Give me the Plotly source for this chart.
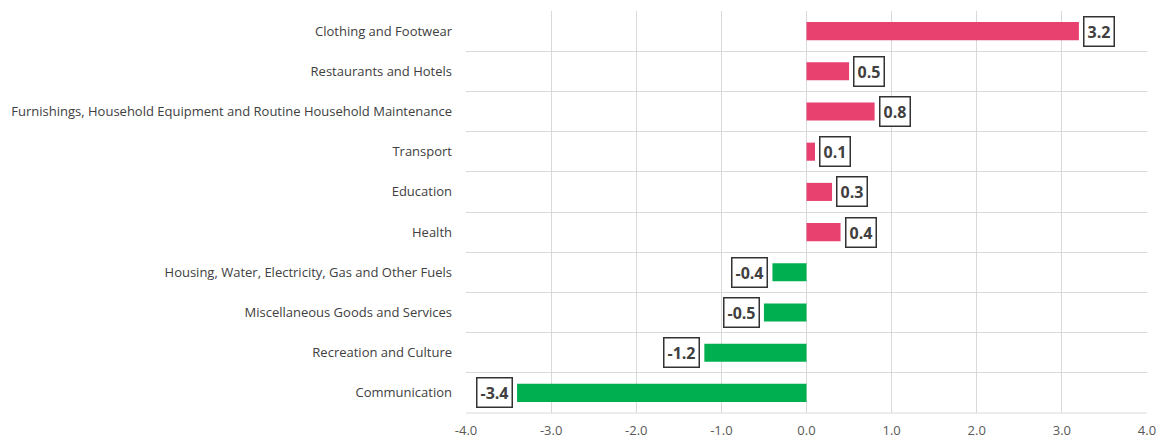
import plotly.graph_objects as go

categories = [
    "Clothing and Footwear",
    "Restaurants and Hotels",
    "Furnishings, Household Equipment and Routine Household Maintenance",
    "Transport",
    "Education",
    "Health",
    "Housing, Water, Electricity, Gas and Other Fuels",
    "Miscellaneous Goods and Services",
    "Recreation and Culture",
    "Communication",
]
values = [3.2, 0.5, 0.8, 0.1, 0.3, 0.4, -0.4, -0.5, -1.2, -3.4]
tick_vals = [-4, -3, -2, -1, 0, 1, 2, 3, 4]
tick_text = ["-4.0", "-3.0", "-2.0", "-1.0", "0.0", "1.0", "2.0", "3.0", "4.0"]

POS = "#E8416F"
NEG = "#00B050"
colors = [POS if v >= 0 else NEG for v in values]

fig = go.Figure(go.Bar(
    x=values, y=categories, orientation="h",
    marker=dict(color=colors, line=dict(width=0)),
    width=0.45, hoverinfo="skip",
))

for c, v in zip(categories, values):
    fig.add_annotation(
        x=v, y=c, text="<b>%.1f</b>" % v, showarrow=False,
        xanchor="left" if v >= 0 else "right",
        xshift=4 if v >= 0 else -4,
        font=dict(family="Open Sans", size=16, color="#404040"),
        bordercolor="#333333", borderwidth=1.5, borderpad=3, bgcolor="white",
    )

fig.update_layout(
    width=1166, height=441,
    margin=dict(l=455, r=27, t=3, b=36),
    paper_bgcolor="white", plot_bgcolor="white",
    showlegend=False,
    font=dict(family="Open Sans", size=13, color="#404040"),
    xaxis=dict(
        range=[-4, 4], tickvals=tick_vals, ticktext=tick_text,
        showgrid=True, gridcolor="#D9D9D9", gridwidth=1,
        zeroline=False, showline=False, ticks="",
        tickfont=dict(size=13, color="#595959"),
        ticklabelstandoff=8,
    ),
    yaxis=dict(
        categoryorder="array", categoryarray=categories,
        autorange="reversed",
        tickson="boundaries", showgrid=True, gridcolor="#D9D9D9", gridwidth=1,
        showline=False, ticks="", ticklen=0,
        tickfont=dict(size=13, color="#404040"),
        ticklabelstandoff=13,
    ),
    bargap=0.55,
)
fig.add_shape(type="line", xref="paper", yref="paper", x0=0, x1=1, y0=0, y1=0,
              line=dict(color="#D9D9D9", width=1))

fig.write_html("out.html")
